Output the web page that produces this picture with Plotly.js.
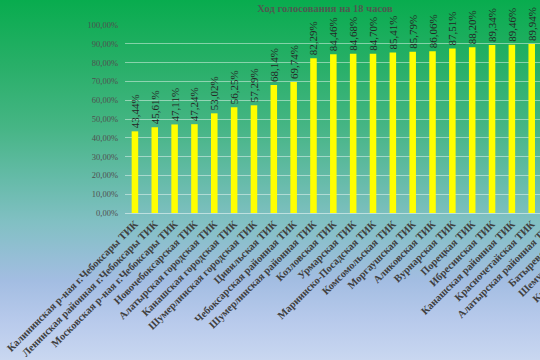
<!DOCTYPE html>
<html>
<head>
<meta charset="utf-8">
<script src="https://cdn.plot.ly/plotly-3.0.1.min.js"></script>
<style>
  html, body { margin:0; padding:0; width:540px; height:360px; overflow:hidden; }
  body { background: linear-gradient(to bottom, #08ac4e 0%, #28af68 18%, #45b584 35%, #66bba9 50%, #82c0c4 62%, #a3bde2 78%, #b9cbec 90%, #c9d7f0 100%); }
  #chart { width:660px; height:360px; }
</style>
</head>
<body>
<div id="chart"></div>
<script>
const categories = [
  "Калининская р-ная г.Чебоксары ТИК",
  "Ленинская районная г.Чебоксары ТИК",
  "Московская р-ная г.Чебоксары ТИК",
  "Новочебоксарская ТИК",
  "Алатырская городская ТИК",
  "Канашская городская ТИК",
  "Шумерлинская городская ТИК",
  "Цивильская ТИК",
  "Чебоксарская районная ТИК",
  "Шумерлинская районная ТИК",
  "Козловская ТИК",
  "Урмарская ТИК",
  "Мариинско-Посадская ТИК",
  "Комсомольская ТИК",
  "Моргаушская ТИК",
  "Аликовская ТИК",
  "Вурнарская ТИК",
  "Порецкая ТИК",
  "Ибресинская ТИК",
  "Канашская районная ТИК",
  "Красночетайская ТИК",
  "Алатырская районная ТИК",
  "Батыревская ТИК",
  "Шемуршинская ТИК",
  "Красноармейская ТИК"
];
// turnout, % (bars beyond the visible crop are unknown -> null)
const turnout = [43.44, 45.61, 47.11, 47.24, 53.02, 56.25, 57.29, 68.14, 69.74, 82.29,
                 84.46, 84.68, 84.70, 85.41, 85.79, 86.06, 87.51, 88.20, 89.34, 89.46,
                 89.94, null, null, null, null];
const yTicks = [0, 10, 20, 30, 40, 50, 60, 70, 80, 90, 100];
const yTickLabels = ["0,00%", "10,00%", "20,00%", "30,00%", "40,00%", "50,00%",
                     "60,00%", "70,00%", "80,00%", "90,00%", "100,00%"];
const titleText = "Ход голосования на 18 часов";

const labels = turnout.map(v => v === null ? "" : v.toFixed(2).replace(".", ",") + "%");

const trace = {
  type: "bar",
  x: categories,
  y: turnout,
  text: labels,
  textposition: "outside",
  textangle: -90,
  constraintext: "none",
  cliponaxis: false,
  textfont: { family: "Liberation Serif, serif", size: 11, color: "#262626" },
  marker: { color: "#ffff00", line: { width: 0 } },
  hoverinfo: "none"
};

const layout = {
  width: 660, height: 360,
  margin: { l: 125, r: 39, t: 25, b: 147 },
  paper_bgcolor: "rgba(0,0,0,0)",
  plot_bgcolor: "rgba(0,0,0,0)",
  bargap: 0.67,
  showlegend: false,
  title: {
    text: "<b>" + titleText + "</b>",
    font: { family: "Liberation Serif, serif", size: 10.5, color: "#4f5a50" },
    xref: "container", x: 325/660, xanchor: "center",
    yref: "container", y: 1 - 8/360, yanchor: "middle"
  },
  xaxis: {
    type: "category",
    tickangle: -45,
    tickfont: { family: "Liberation Serif, serif", size: 10.5, color: "#404040", weight: "bold" },
    showgrid: false, showline: false, ticks: "", ticklabelstandoff: 2, automargin: false
  },
  yaxis: {
    range: [0, 100],
    tickmode: "array",
    tickvals: yTicks,
    ticktext: yTickLabels,
    tickfont: { family: "Liberation Serif, serif", size: 8.5, color: "#505050" },
    gridcolor: "rgba(255,255,255,0.45)",
    gridwidth: 1,
    zeroline: true, zerolinecolor: "rgba(255,255,255,0.5)", zerolinewidth: 1,
    showline: false, ticks: "", ticklabelstandoff: 6, automargin: false
  }
};

Plotly.newPlot("chart", [trace], layout, { displayModeBar: false, staticPlot: true });
</script>
</body>
</html>
